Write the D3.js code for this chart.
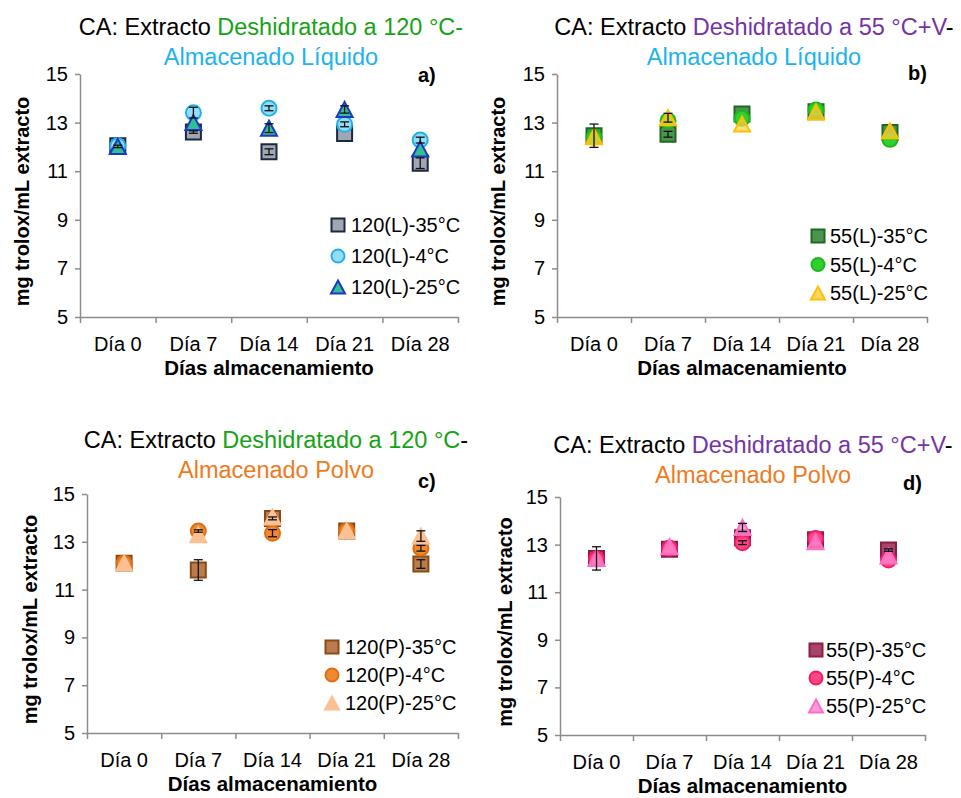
<!DOCTYPE html>
<html>
<head>
<meta charset="utf-8">
<script src="https://cdn.jsdelivr.net/npm/d3@7"></script>
<style>
  body { margin: 0; background: #fff; }
  svg text { font-family: 'Liberation Sans', Arial, sans-serif; }
</style>
</head>
<body>
<div class="chart"></div>
<script>
var days = ['Día 0', 'Día 7', 'Día 14', 'Día 21', 'Día 28'];
var yTicks = [5, 7, 9, 11, 13, 15];

// a) 120 °C, liquid
var a35 = [12.05, 12.61, 11.80, 12.55, 11.33];
var a35Err = [0, 0.05, 0.12, 0, 0.22];
var a4 = [12.05, 13.41, 13.59, 12.93, 12.28];
var a4Err = [0, 0.22, 0.1, 0.1, 0.12];
var a25 = [12.02, 13.00, 12.77, 13.54, 11.91];
var a25Err = [0.05, 0, 0.18, 0.15, 0];

// b) 55 °C+V, liquid
var b35 = [12.46, 12.52, 13.35, 13.45, 12.59];
var b35Err = [0.48, 0.12, 0, 0, 0];
var b4 = [12.40, 13.08, 13.18, 13.52, 12.31];
var b4Err = [0, 0, 0, 0, 0];
var b25 = [12.42, 13.20, 12.94, 13.44, 12.66];
var b25Err = [0, 0.18, 0, 0, 0];

// c) 120 °C, powder
var c35 = [12.10, 11.82, 13.98, 13.45, 12.07];
var c35Err = [0, 0.43, 0.06, 0, 0.18];
var c4 = [12.10, 13.45, 13.36, 13.45, 12.73];
var c4Err = [0, 0.05, 0.15, 0, 0.12];
var c25 = [12.10, 13.30, 14.04, 13.46, 13.24];
var c25Err = [0, 0, 0, 0, 0.22];

// d) 55 °C+V, powder
var d35 = [12.42, 12.80, 13.29, 13.20, 12.77];
var d35Err = [0.49, 0, 0, 0, 0.05];
var d4 = [12.40, 12.85, 13.08, 13.26, 12.35];
var d4Err = [0, 0, 0.08, 0, 0];
var d25 = [12.42, 12.91, 13.72, 13.12, 12.52];
var d25Err = [0, 0, 0.17, 0, 0];

var green = '#15a315', purple = '#7434a6', blue = '#1db3ec', orange = '#ee7a1c';

var panels = [
  {
    label: 'a)', left: 80, right: 458, top: 74, bottom: 317,
    title: [[['CA: Extracto ', '#000'], ['Deshidratado a 120 °C-', green]], [['Almacenado Líquido', blue]]],
    titleX: 271, titleY: 35, labelX: 418, labelY: 82, yTitleX: 22,
    legend: {x: 338, y: 225, dy: 31, textX: 351},
    series: [
      {name: '120(L)-35°C', values: a35, err: a35Err, shape: 'square', fill: '#a0a6b2', stroke: '#1c2740'},
      {name: '120(L)-4°C', values: a4, err: a4Err, shape: 'circle', fill: '#97dcf6', stroke: '#1fb2ea'},
      {name: '120(L)-25°C', values: a25, err: a25Err, shape: 'triangle', fill: '#2fbf90', stroke: '#1b39c9'}
    ]
  },
  {
    label: 'b)', left: 557, right: 927, top: 74, bottom: 317,
    title: [[['CA: Extracto ', '#000'], ['Deshidratado a 55 °C+V', purple], ['-', '#000']], [['Almacenado Líquido', blue]]],
    titleX: 754, titleY: 35, labelX: 908, labelY: 80, yTitleX: 498,
    legend: {x: 818, y: 236, dy: 28.5, textX: 830},
    series: [
      {name: '55(L)-35°C', values: b35, err: b35Err, shape: 'square', fill: '#4f9350', stroke: '#1d6a1f'},
      {name: '55(L)-4°C', values: b4, err: b4Err, shape: 'circle', fill: '#2ed12e', stroke: '#1fb51f'},
      {name: '55(L)-25°C', values: b25, err: b25Err, shape: 'triangle', fill: 'rgba(255,208,70,0.72)', stroke: '#ffc000'}
    ]
  },
  {
    label: 'c)', left: 87, right: 458, top: 494, bottom: 733,
    title: [[['CA: Extracto ', '#000'], ['Deshidratado a 120 °C', green], ['-', '#000']], [['Almacenado Polvo', orange]]],
    titleX: 276, titleY: 448, labelX: 418, labelY: 488, yTitleX: 30,
    legend: {x: 332, y: 647, dy: 28, textX: 345},
    series: [
      {name: '120(P)-35°C', values: c35, err: c35Err, shape: 'square', fill: '#b97c4e', stroke: '#8c4a12'},
      {name: '120(P)-4°C', values: c4, err: c4Err, shape: 'circle', fill: '#ef8a33', stroke: '#e06d12'},
      {name: '120(P)-25°C', values: c25, err: c25Err, shape: 'triangle', fill: '#fbc195', stroke: '#fbc195'}
    ]
  },
  {
    label: 'd)', left: 560, right: 925, top: 497, bottom: 735,
    title: [[['CA: Extracto ', '#000'], ['Deshidratado a 55 °C+V', purple], ['-', '#000']], [['Almacenado Polvo', orange]]],
    titleX: 753, titleY: 453, labelX: 903, labelY: 490, yTitleX: 505,
    legend: {x: 816, y: 650, dy: 28, textX: 826},
    series: [
      {name: '55(P)-35°C', values: d35, err: d35Err, shape: 'square', fill: '#a8456b', stroke: '#8e1a46'},
      {name: '55(P)-4°C', values: d4, err: d4Err, shape: 'circle', fill: '#ff4586', stroke: '#ee1f66'},
      {name: '55(P)-25°C', values: d25, err: d25Err, shape: 'triangle', fill: 'rgba(255,140,205,0.75)', stroke: '#ff6ac8'}
    ]
  }
];

var svg = d3.select('.chart').append('svg')
  .attr('width', 961)
  .attr('height', 798);

function shapePath(shape, r) {
  if (shape === 'square') {
    return 'M' + (-r) + ',' + (-r) + 'H' + r + 'V' + r + 'H' + (-r) + 'Z';
  }
  if (shape === 'triangle') {
    return 'M0,' + (-r) + 'L' + (r + 0.5) + ',' + r + 'H' + (-r - 0.5) + 'Z';
  }
  return d3.symbol().type(d3.symbolCircle).size(Math.PI * r * r)();
}

function drawPanel(p) {
  var g = svg.append('g').attr('class', 'panel');

  var x = d3.scaleBand().domain(days).range([p.left, p.right]);
  var xEdge = d3.scaleLinear().domain([0, days.length]).range([p.left, p.right]);
  var y = d3.scaleLinear().domain([5, 15]).range([p.bottom, p.top]);
  function cx(i) { return x(days[i]) + x.bandwidth() / 2; }

  // title, two coloured lines
  var title = g.append('text')
    .attr('x', p.titleX)
    .attr('y', p.titleY)
    .attr('text-anchor', 'middle')
    .style('font-size', '23.5px');
  p.title.forEach(function(line, li) {
    line.forEach(function(part, pi) {
      var t = title.append('tspan').text(part[0]).attr('fill', part[1]);
      if (pi === 0) t.attr('x', p.titleX).attr('dy', li === 0 ? 0 : 30);
    });
  });

  g.append('text')
    .attr('x', p.labelX)
    .attr('y', p.labelY)
    .style('font-size', '20px')
    .style('font-weight', 'bold')
    .text(p.label);

  // y axis
  var yAxis = g.append('g')
    .attr('transform', 'translate(' + p.left + ',0)')
    .call(d3.axisLeft(y).tickValues(yTicks).tickSize(5).tickSizeOuter(0).tickPadding(7));

  // x axis, ticks between categories
  var xAxis = g.append('g')
    .attr('transform', 'translate(0,' + p.bottom + ')')
    .call(d3.axisBottom(xEdge).tickValues(d3.range(days.length + 1)).tickSize(6).tickSizeOuter(0).tickFormat(''));

  [yAxis, xAxis].forEach(function(ax) {
    ax.select('.domain').attr('stroke', '#8c8c8c').attr('stroke-width', 1.5);
    ax.selectAll('.tick line').attr('stroke', '#8c8c8c').attr('stroke-width', 1.5);
  });
  yAxis.selectAll('.tick text')
    .attr('fill', '#000')
    .style('font-size', '20px')
    .style('font-family', "'Liberation Sans', Arial, sans-serif");

  g.selectAll(null).data(days).enter().append('text')
    .attr('x', function(d) { return x(d) + x.bandwidth() / 2; })
    .attr('y', p.bottom + 34)
    .attr('text-anchor', 'middle')
    .style('font-size', '20px')
    .text(function(d) { return d; });

  g.append('text')
    .attr('x', (p.left + p.right) / 2)
    .attr('y', p.bottom + 58)
    .attr('text-anchor', 'middle')
    .style('font-size', '20.5px')
    .style('font-weight', 'bold')
    .text('Días almacenamiento');

  g.append('text')
    .attr('transform', 'translate(' + p.yTitleX + ',' + ((p.top + p.bottom) / 2 + 6) + ') rotate(-90)')
    .attr('text-anchor', 'middle')
    .attr('dy', '0.35em')
    .style('font-size', '20px')
    .style('font-weight', 'bold')
    .text('mg trolox/mL extracto');

  // markers
  p.series.forEach(function(s) {
    g.selectAll(null).data(s.values).enter().append('path')
      .attr('d', shapePath(s.shape, 7.5))
      .attr('transform', function(v, i) { return 'translate(' + cx(i) + ',' + y(v) + ')'; })
      .attr('fill', s.fill)
      .attr('stroke', s.stroke)
      .attr('stroke-width', 2);
  });

  // error bars on top, skipped where too small to see
  p.series.forEach(function(s) {
    var pts = s.values.map(function(v, i) { return {i: i, v: v, e: s.err[i]}; })
      .filter(function(d) { return d.e > 0; });
    var bars = g.selectAll(null).data(pts).enter().append('g')
      .attr('stroke', '#111')
      .attr('stroke-width', 1.3);
    bars.append('line')
      .attr('x1', function(d) { return cx(d.i); })
      .attr('x2', function(d) { return cx(d.i); })
      .attr('y1', function(d) { return y(d.v - d.e); })
      .attr('y2', function(d) { return y(d.v + d.e); });
    [-1, 1].forEach(function(sign) {
      bars.append('line')
        .attr('x1', function(d) { return cx(d.i) - 4.5; })
        .attr('x2', function(d) { return cx(d.i) + 4.5; })
        .attr('y1', function(d) { return y(d.v + sign * d.e); })
        .attr('y2', function(d) { return y(d.v + sign * d.e); });
    });
  });

  // legend
  var lg = g.append('g').attr('class', 'legend');
  var items = lg.selectAll(null).data(p.series).enter().append('g')
    .attr('transform', function(s, i) { return 'translate(0,' + (p.legend.y + i * p.legend.dy) + ')'; });
  items.append('path')
    .attr('d', function(s) { return shapePath(s.shape, 6.5); })
    .attr('transform', 'translate(' + p.legend.x + ',0)')
    .attr('fill', function(s) { return s.shape === 'triangle' && s.fill.indexOf('rgba') === 0 ? s.fill.replace(/[\d.]+\)$/, '0.85)') : s.fill; })
    .attr('stroke', function(s) { return s.stroke; })
    .attr('stroke-width', 2);
  items.append('text')
    .attr('x', p.legend.textX)
    .attr('y', 0)
    .attr('dy', '0.36em')
    .style('font-size', '20px')
    .text(function(s) { return s.name; });
}

panels.forEach(drawPanel);
</script>
</body>
</html>
